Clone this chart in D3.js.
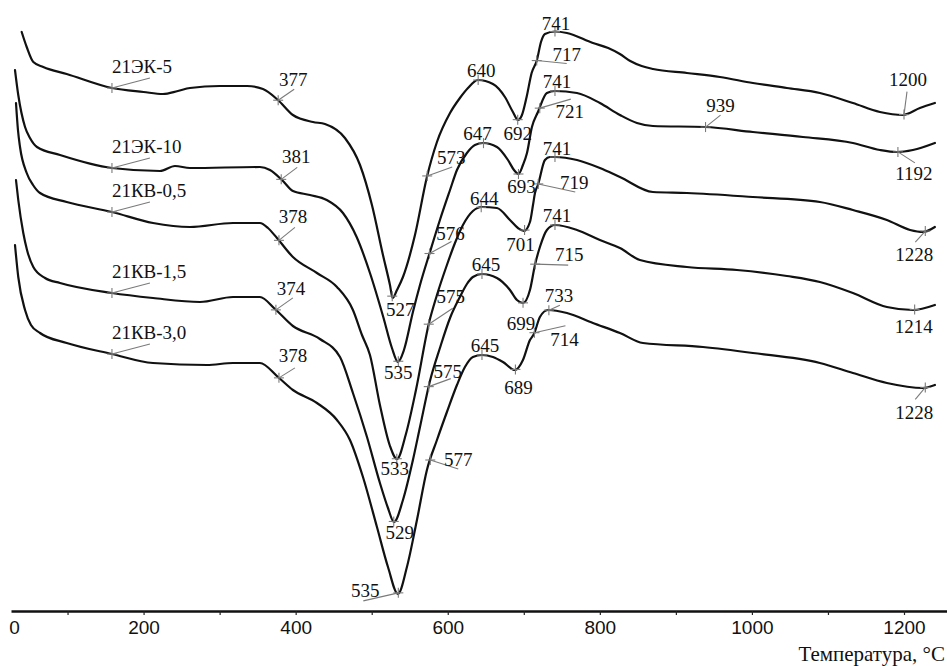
<!DOCTYPE html>
<html><head><meta charset="utf-8">
<script src="https://cdn.jsdelivr.net/npm/d3@7"></script>
<style>
html,body{margin:0;padding:0;background:#fff;}
svg{display:block;}
</style></head><body>
<svg id="chart" width="947" height="666"></svg>
<script>
// ---------------- DATA (temperature °C, DTA signal in arbitrary units) ----------------
const seriesNames = ["21ЭК-5", "21ЭК-10", "21КВ-0,5", "21КВ-1,5", "21КВ-3,0"];

const curveEK5 = [[39.7,579],[46.3,564],[55.0,549],[68.1,544],[98.9,537],[158.4,523],[200.0,519],[225.5,517],[245.0,520],[261.0,523],[300.0,525],[336.0,525],[357.0,522],[376.7,511],[396.4,496],[422.8,489],[438.5,487],[464.8,473],[484.6,446],[500.3,406],[514.8,356],[524.0,326],[527.5,313],[533.2,321],[541.1,334],[556.9,376],[572.6,434],[585.8,469],[603.0,498],[616.0,513],[626.6,523],[639.7,531],[659.4,527],[675.2,514],[685.7,499],[692.3,491],[697.6,496],[703.7,514],[710.3,538],[717.3,551],[722.6,569],[727.8,577],[741.0,579.5],[756.7,578],[790.9,568],[811.0,563],[826.4,557],[840.0,550],[855.0,545],[870.0,542],[914.5,538],[957.9,534],[1001.3,528],[1046.0,523],[1089.4,518],[1132.8,508],[1168.3,499],[1198.6,496],[1220.9,503],[1240.6,508]];

const curveEK10 = [[30.9,541],[35.2,516],[44.1,484],[50.6,473],[59.8,464],[90.1,456],[158.4,443],[221.6,440],[241.3,445],[261.0,443],[353.0,444],[366.2,441],[382.0,431],[396.4,420],[418.8,416],[440.8,411],[462.2,398],[480.2,374],[497.7,338],[515.2,294],[526.6,263],[534.5,249],[542.4,261],[554.2,299],[563.5,326],[576.6,359],[589.7,391],[603.0,421],[612.1,441],[625.2,458],[635.7,466],[646.3,468],[664.7,464],[679.2,451],[687.1,441],[693.0,437],[698.9,446],[704.2,458],[710.7,484],[718.6,499],[730.4,518],[741.0,520],[769.9,518],[800.1,508],[826.4,496],[848.8,488],[869.8,485],[938.2,484],[1001.3,479],[1067.1,474],[1132.8,468],[1168.3,461],[1190.7,459],[1211.7,461],[1240.6,468]];

const curveKV05 = [[32.2,508],[34.8,481],[37.5,464],[46.3,438],[54.6,426],[63.8,418],[98.9,409],[158.4,399],[212.4,388],[261.0,384],[317.6,388],[353.0,388],[363.6,383],[375.4,373],[396.4,354],[428.0,338],[454.3,324],[475.3,301],[487.2,276],[497.7,256],[510.8,206],[524.0,165],[533.2,152],[545.0,177],[558.2,221],[575.3,288],[585.8,316],[598.9,346],[609.5,368],[620.0,386],[633.1,400],[644.9,404],[664.7,403],[681.8,391],[692.3,383],[700.2,380],[708.1,389],[712.1,406],[714.7,418],[718.6,426],[727.8,451],[734.4,454],[741.0,454],[769.9,451],[800.1,443],[826.4,434],[869.8,419],[914.5,418],[1001.3,414],[1089.4,409],[1132.8,401],[1177.5,391],[1208.0,381],[1224.9,379],[1240.6,384]];

const curveKV15 = [[32.2,431],[35.2,411],[41.8,378],[46.7,361],[55.0,344],[70.4,333],[90.1,328],[158.4,318],[212.4,313],[274.2,309],[317.6,314],[353.0,314],[372.8,302],[396.4,285],[431.9,272],[458.3,254],[475.3,218],[493.8,174],[510.8,128],[521.4,103],[529.3,89],[541.1,111],[554.2,151],[563.5,184],[576.6,230],[589.7,263],[603.0,293],[616.0,314],[625.2,327],[633.1,334],[644.9,337],[664.7,333],[681.8,321],[691.0,311],[698.9,308],[708.1,321],[714.7,346],[721.2,364],[730.4,381],[741.0,386],[769.9,381],[800.1,371],[826.4,363],[852.7,351],[914.5,344],[980.3,341],[1046.0,335],[1089.4,329],[1132.8,318],[1177.5,304],[1211.7,301],[1240.6,306]];

const curveKV30 = [[30.9,366],[35.2,334],[44.1,301],[51.9,286],[63.8,278],[98.9,268],[158.4,257],[212.4,248],[283.3,246],[317.6,248],[353.0,248],[376.7,234],[396.4,221],[428.0,208],[454.3,191],[471.4,171],[488.5,134],[506.9,84],[521.4,44],[534.5,17],[546.3,44],[559.5,91],[572.6,141],[585.8,171],[598.9,199],[612.1,226],[622.6,244],[633.1,254],[644.9,256],[659.4,254],[672.6,249],[688.4,241],[698.9,251],[708.1,271],[713.4,277],[721.2,294],[731.8,301],[756.7,298],[790.9,288],[826.4,278],[856.7,268],[935.6,264],[1001.3,258],[1089.4,248],[1132.8,238],[1177.5,228],[1224.9,223],[1240.6,226]];

// characteristic temperatures marked on each curve
const pointsEK5  = [377, 527, 573, 640, 692, 717, 741, 1200];
const pointsEK10 = [381, 535, 576, 647, 693, 721, 741, 939, 1192];
const pointsKV05 = [378, 533, 575, 644, 701, 719, 741, 1228];
const pointsKV15 = [374, 529, 575, 645, 699, 715, 741, 1214];
const pointsKV30 = [378, 535, 577, 645, 689, 714, 733, 1228];

const majorTicks = [0, 200, 400, 600, 800, 1000, 1200];
const minorTicks = [100, 300, 500, 700, 900, 1100];
const axisTitle = "Температура, °C";
const seriesLabelTemp = 158.4;

// ---------------- LAYOUT (label offsets from the marked point, px) ----------------
// [labelDx, labelDy, leaderDx, leaderDy] (leader optional)
const layoutEK5  = [[15,-14,16,-11],[8,20],[24,-12,25,-9],[3,-3],[0,20],[30,0,30,3],[1,-2],[4,-29,3,-23]];
const layoutEK10 = [[15,-16,16,-12],[0,18],[21,-14,22,-12],[-6,-3],[3,19],[30,10,31,-9],[2,-3],[15,-15,15,-12],[16,28,17,11]];
const layoutKV05 = [[14,-17,16,-13],[-2,16],[22,-21,24,-16],[3,-2],[-4,21],[36,5,37,8],[2,-2],[-11,30,-10,11]];
const layoutKV15 = [[15,-15,17,-12],[6,18],[19,-9,22,-8],[4,-3],[-2,27],[34,-3,33,1],[2,-3],[-1,23]];
const layoutKV30 = [[14,-16,16,-10],[-33,4,-35,8],[28,6,28,9],[3,-3],[3,25],[30,13,31,-7],[10,-8,11,-5],[-11,32,-10,12]];

// ---------------- DRAW ----------------
const curves = [curveEK5, curveEK10, curveKV05, curveKV15, curveKV30];
const points = [pointsEK5, pointsEK10, pointsKV05, pointsKV15, pointsKV30];
const layouts = [layoutEK5, layoutEK10, layoutKV05, layoutKV15, layoutKV30];

const svg = d3.select("#chart");
svg.append("rect").attr("width", 947).attr("height", 666).attr("fill", "#fff");

const x = d3.scaleLinear().domain([0, 1200]).range([-8.5, 904]);
const y = d3.scaleLinear().domain([0, 600]).range([611, 11]);

const line = d3.line().x(d => x(d[0])).y(d => y(d[1])).curve(d3.curveMonotoneX);

function valueAt(data, t) {
  for (let i = 0; i < data.length - 1; i++) {
    const a = data[i], b = data[i + 1];
    if (t >= a[0] && t <= b[0]) return a[1] + (b[1] - a[1]) * (t - a[0]) / (b[0] - a[0]);
  }
  return t < data[0][0] ? data[0][1] : data[data.length - 1][1];
}

const serif = "'Liberation Serif','Times New Roman',serif";
const markColor = "#7a7a7a";

// axis
const xAxisScale = d3.scaleLinear().domain([x.invert(11), x.invert(947)]).range([11, 947]).clamp(true);
const gAxis = svg.append("g").attr("transform", "translate(0,611)");
gAxis.call(d3.axisBottom(xAxisScale).tickValues(majorTicks).tickFormat(d3.format("d"))
  .tickSize(4).tickPadding(6).tickSizeOuter(0));
gAxis.select(".domain").attr("stroke", "#111").attr("stroke-width", 2.4);
gAxis.selectAll(".tick line").attr("stroke", "#222").attr("stroke-width", 1.2);
gAxis.selectAll(".tick text").attr("font-family", "'Liberation Sans',Arial,sans-serif").attr("font-size", 19).attr("fill", "#111");
gAxis.selectAll(".tick").filter(d => d === 0).select("line").remove();
gAxis.selectAll(".tick").filter(d => d === 0).select("text").attr("dx", 3);
const gMinor = svg.append("g").attr("transform", "translate(0,611)");
gMinor.call(d3.axisBottom(xAxisScale).tickValues(minorTicks).tickSize(4).tickFormat(""));
gMinor.select(".domain").remove();
gMinor.selectAll(".tick line").attr("stroke", "#222").attr("stroke-width", 1.2);

svg.append("text").attr("x", 945).attr("y", 661).attr("text-anchor", "end")
  .attr("font-family", serif).attr("font-size", 21).attr("fill", "#111").text(axisTitle);

// curves
svg.append("g").selectAll("path").data(curves).join("path")
  .attr("d", line).attr("fill", "none").attr("stroke", "#111").attr("stroke-width", 2.2)
  .attr("stroke-linejoin", "round").attr("stroke-linecap", "round");

function cross(g, px, py) {
  g.append("line").attr("x1", px - 5).attr("x2", px + 5).attr("y1", py).attr("y2", py);
  g.append("line").attr("x1", px).attr("x2", px).attr("y1", py - 5).attr("y2", py + 5);
}

const gMarks = svg.append("g").attr("stroke", markColor).attr("stroke-width", 1.1);
const gText = svg.append("g").attr("font-family", serif).attr("font-size", 19).attr("fill", "#111");

curves.forEach((data, ci) => {
  // series label
  const sx = x(seriesLabelTemp), sy = y(valueAt(data, seriesLabelTemp));
  cross(gMarks, sx, sy);
  gMarks.append("line").attr("x1", sx).attr("y1", sy).attr("x2", sx + 38).attr("y2", sy - 10);
  gText.append("text").attr("x", sx).attr("y", sy - 15).text(seriesNames[ci]);

  points[ci].forEach((t, pi) => {
    const px = x(t), py = y(valueAt(data, t));
    const L = layouts[ci][pi];
    cross(gMarks, px, py);
    if (L.length > 2) gMarks.append("line").attr("x1", px).attr("y1", py).attr("x2", px + L[2]).attr("y2", py + L[3]);
    gText.append("text").attr("x", px + L[0]).attr("y", py + L[1]).attr("text-anchor", "middle").text(t);
  });
});
</script>
</body></html>
